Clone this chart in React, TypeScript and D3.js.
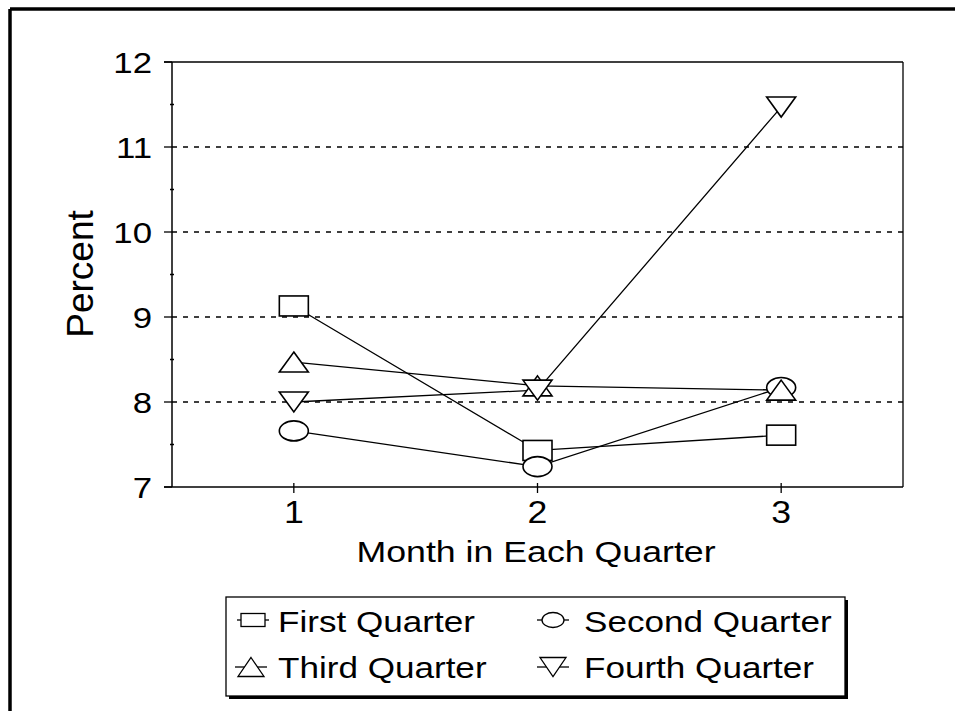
import React from "react";
import * as d3 from "d3";

const months = [1, 2, 3];
const seriesNames = ["First Quarter", "Second Quarter", "Third Quarter", "Fourth Quarter"];
const firstQuarter = [9.13, 7.43, 7.61];
const secondQuarter = [7.66, 7.24, 8.17];
const thirdQuarter = [8.47, 8.19, 8.14];
const fourthQuarter = [8.0, 8.14, 11.47];
const yTicks = [7, 8, 9, 10, 11, 12];
const yMinorTicks = [7.5, 8.5, 9.5, 10.5, 11.5];
const gridValues = [8, 9, 10, 11];
const markerTypes = ["square", "circle", "up", "down"];

const W = 955;
const H = 711;
const FONT = "'Liberation Sans', Arial, Helvetica, sans-serif";

function Marker({ type, cx, cy, w, h, sw = 1.6 }: { type: string; cx: number; cy: number; w: number; h: number; sw?: number }) {
  const common = { fill: "#fff", stroke: "#000", strokeWidth: sw };
  if (type === "square") return <rect x={cx - w / 2} y={cy - h / 2} width={w} height={h} {...common} />;
  if (type === "circle") return <ellipse cx={cx} cy={cy} rx={w / 2} ry={h / 2} {...common} />;
  if (type === "up")
    return <polygon points={`${cx},${cy - h / 2} ${cx + w / 2},${cy + h / 2} ${cx - w / 2},${cy + h / 2}`} {...common} />;
  return <polygon points={`${cx - w / 2},${cy - h / 2} ${cx + w / 2},${cy - h / 2} ${cx},${cy + h / 2}`} {...common} />;
}

function SText({ x, y, size, sx = 1.17, anchor = "start", children }: { x: number; y: number; size: number; sx?: number; anchor?: string; children: React.ReactNode }) {
  return (
    <text transform={`translate(${x},${y}) scale(${sx},1)`} fontSize={size} textAnchor={anchor} fill="#000">
      {children}
    </text>
  );
}

export default function App() {
  const left = 172, right = 903, top = 62, bottom = 487;
  const x = d3.scaleLinear().domain([0.5, 3.5]).range([left, right]);
  const y = d3.scaleLinear().domain([7, 12]).range([bottom, top]);
  const allSeries = [firstQuarter, secondQuarter, thirdQuarter, fourthQuarter];
  const line = d3.line<number>().x((_, i) => x(months[i])).y((d) => y(d));

  const legendSizes: Record<string, [number, number]> = {
    square: [24, 13],
    circle: [22, 15],
    up: [26, 19],
    down: [26, 19],
  };
  const legendItems = [
    { name: seriesNames[0], type: markerTypes[0], mx: 253, my: 620, tx: 278, ty: 632 },
    { name: seriesNames[1], type: markerTypes[1], mx: 553, my: 620, tx: 584, ty: 632 },
    { name: seriesNames[2], type: markerTypes[2], mx: 251, my: 667, tx: 278, ty: 678 },
    { name: seriesNames[3], type: markerTypes[3], mx: 553, my: 667, tx: 584, ty: 678 },
  ];

  return (
    <svg width={W} height={H} style={{ position: "absolute", left: 0, top: 0, background: "#fff" }} fontFamily={FONT}>
      <rect x={0} y={0} width={W} height={H} fill="#fff" />
      {/* outer frame */}
      <line x1={10} y1={9} x2={W} y2={9} stroke="#000" strokeWidth={3.5} />
      <line x1={10} y1={9} x2={10} y2={H} stroke="#000" strokeWidth={3.5} />

      {/* grid */}
      {gridValues.map((v) => (
        <line key={v} x1={left} x2={right} y1={y(v)} y2={y(v)} stroke="#000" strokeWidth={1.3} strokeDasharray="5 6" />
      ))}
      {/* plot box */}
      <line x1={left - 8} x2={right} y1={top} y2={top} stroke="#000" strokeWidth={1.3} />
      <line x1={right} x2={right} y1={top} y2={bottom} stroke="#000" strokeWidth={1.3} />
      <line x1={left} x2={left} y1={top} y2={bottom} stroke="#000" strokeWidth={1.5} />
      <line x1={left - 8} x2={right} y1={bottom} y2={bottom} stroke="#000" strokeWidth={1.5} />

      {/* y ticks */}
      {yTicks.map((v) => (
        <g key={v}>
          <line x1={left - 8} x2={left} y1={y(v)} y2={y(v)} stroke="#000" strokeWidth={1.3} />
          <SText x={152} y={y(v) + 10.5} size={29} sx={1.2} anchor="end">{v}</SText>
        </g>
      ))}
      {yMinorTicks.map((v) => (
        <line key={v} x1={left - 2} x2={left + 2} y1={y(v)} y2={y(v)} stroke="#000" strokeWidth={1.5} />
      ))}
      {/* x ticks */}
      {months.map((m) => (
        <g key={m}>
          <line x1={x(m)} x2={x(m)} y1={bottom - 4} y2={bottom + 6} stroke="#000" strokeWidth={1.3} />
          <SText x={x(m)} y={523} size={31} sx={1.15} anchor="middle">{m}</SText>
        </g>
      ))}

      <SText x={536} y={562} size={30} sx={1.19} anchor="middle">Month in Each Quarter</SText>
      <text transform={`translate(93,274) rotate(-90)`} fontSize={37} textAnchor="middle" fill="#000">Percent</text>

      {/* lines */}
      {allSeries.map((s, i) => (
        <path key={i} d={line(s) || ""} fill="none" stroke="#000" strokeWidth={1.3} />
      ))}
      {/* markers */}
      {allSeries.map((s, i) =>
        s.map((v, j) => <Marker key={`${i}-${j}`} type={markerTypes[i]} cx={x(months[j])} cy={y(v)} w={29} h={20} />)
      )}

      {/* legend */}
      <rect x={229} y={600} width={619} height={99} fill="#000" />
      <rect x={226} y={597} width={619} height={99} fill="#fff" stroke="#000" strokeWidth={1.3} />
      {legendItems.map((it) => {
        const [mw, mh] = legendSizes[it.type];
        return (
          <g key={it.name}>
            <line x1={it.mx - 16} x2={it.mx + 16} y1={it.my} y2={it.my} stroke="#000" strokeWidth={1.3} />
            <Marker type={it.type} cx={it.mx} cy={it.my} w={mw} h={mh} sw={1.3} />
            <SText x={it.tx} y={it.ty} size={30} sx={1.17}>{it.name}</SText>
          </g>
        );
      })}
    </svg>
  );
}
